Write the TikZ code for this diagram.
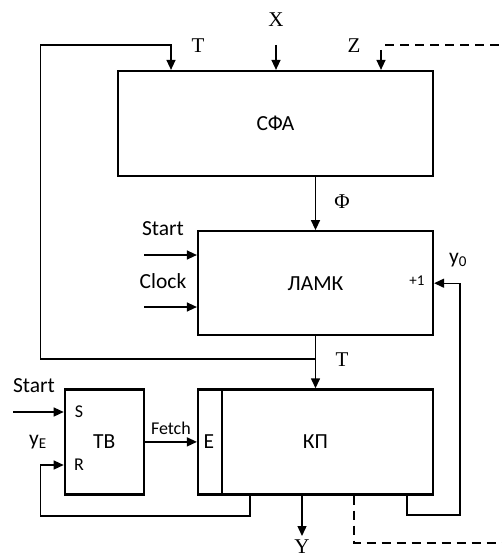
\documentclass[tikz,border=0pt]{standalone}
\usepackage{fontspec}
\setmainfont{Liberation Serif}
\setsansfont{Carlito}
\usetikzlibrary{arrows.meta,positioning}
\tikzset{
  bloco/.style={draw, line width=2.2pt, inner sep=0pt,
                font=\sffamily\fontsize{21.5}{25}\selectfont},
  seta/.style={-{Triangle[length=10pt,width=9pt]}, line width=1.4pt},
  linha/.style={line width=1.4pt},
  tracejado/.style={line width=1.4pt, dash pattern=on 9pt off 6pt},
  rotulo/.style={font=\sffamily\fontsize{21.5}{25}\selectfont, inner sep=0pt},
  pequeno/.style={font=\sffamily\fontsize{18}{21}\selectfont, inner sep=0pt},
  letra/.style={font=\fontsize{21}{25}\selectfont, inner sep=0pt},
}

\begin{document}
\begin{tikzpicture}[x=1pt, y=-1pt]
  \useasboundingbox (0,0) rectangle (502,559);

  % Blocos
  \node[bloco, minimum width=315pt, minimum height=105pt] (sfa) at (275.5,123.5) {СФА};
  \node[bloco, below=53pt of sfa.south east, anchor=north east,
        minimum width=235pt, minimum height=104pt] (lamk) {ЛАМК};
  \node[bloco, below=52pt of lamk, minimum width=235pt, minimum height=105pt] (kp) {КП};
  \node[bloco, left=52pt of kp, minimum width=79pt, minimum height=105pt] (tb) {ТВ};
  \draw[bloco] ([xshift=25pt]kp.north west) -- ([xshift=25pt]kp.south west);

  % Rótulos
  \node[rotulo] (e) at ([xshift=12pt]kp.west) {E};
  \node[pequeno] (s) at (79,412) {S};
  \node[pequeno] (r) at (79,465) {R};
  \node[rotulo] (start) at (163,229) {Start};
  \node[rotulo] (clock) at (163,281) {Clock};
  \node[rotulo] (startTb) at (34,386) {Start};
  \node[rotulo] (ye) at (38,442) {y\textsubscript{E}};
  \node[rotulo] (y0) at (458,260) {y\textsubscript{0}};
  \node[pequeno, font=\sffamily\fontsize{15}{18}\selectfont] (plus) at (417,281) {+1};
  \node[letra] (lblX) at (276,20) {X};
  \node[letra] (lblT) at (198,46) {T};
  \node[letra] (lblZ) at (354,46) {Z};
  \node[letra] (lblPhi) at (342,202) {Φ};
  \node[letra] (lblT2) at (342,360) {T};
  \node[letra, anchor=north] (lblY) at (302,540) {Y};

  % Pontos livres
  \coordinate (ramoT) at (lamk.south |- 0,359);
  \coordinate (entT) at (171,45);
  \coordinate (entX) at (276,45);
  \coordinate (entZ) at (381,50);
  \coordinate (fimZ) at (385,45);
  \coordinate (entStart) at (144,255);
  \coordinate (entClock) at (144,307);
  \coordinate (entS) at (13,412);
  \coordinate (saiY) at (302,536);

  % Setas
  \draw[seta] (entX) -- (entX |- sfa.north);
  \draw[seta] (entZ) -- (entZ |- sfa.north);
  \draw[tracejado] (fimZ) -- (502,45);
  \draw[seta] (lamk.north |- sfa.south) -- (lamk.north);
  \draw[seta] (entStart) -- (entStart -| lamk.west);
  \draw[seta] (entClock) -- (entClock -| lamk.west);
  \draw[seta] (lamk.south) -- (kp.north);
  \draw[seta] (ramoT) -| (40.7,45) -| (entT |- sfa.north);
  \draw[seta] ([xshift=91.5pt]kp.south) |- (460,515) |- (lamk.east);
  \draw[seta] (entS) -- (s -| tb.west);
  \draw[seta] ([xshift=-65.5pt]kp.south) |- (40.7,516) |- (r -| tb.west);
  \draw[seta] (tb) -- node[pequeno, above=7pt] {Fetch} (kp);
  \draw[seta] ([xshift=-13.5pt]kp.south) -- (saiY);
  \draw[tracejado] ([xshift=38.5pt]kp.south) |- (502,543);
\end{tikzpicture}
\end{document}
